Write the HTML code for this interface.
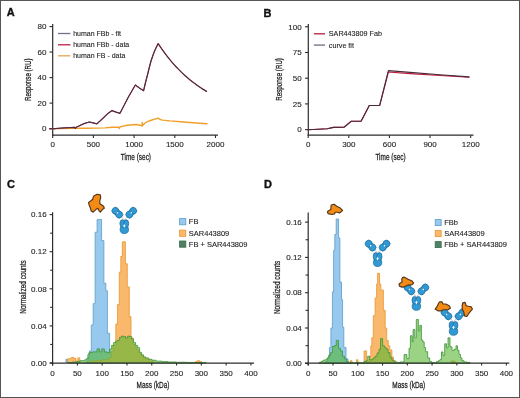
<!DOCTYPE html>
<html><head><meta charset="utf-8"><style>
html,body{margin:0;padding:0;background:#fff;}
body{width:520px;height:398px;overflow:hidden;}
svg{display:block;font-family:"Liberation Sans", sans-serif;will-change:transform;}
.frame{position:absolute;left:0;top:0;width:518px;height:396px;border:1px solid #4a4a4a;}
</style></head><body>
<svg width="520" height="398" viewBox="0 0 520 398">
<rect x="0" y="0" width="520" height="398" fill="#fff"/>
<text x="6.80" y="16.20" font-size="11" text-anchor="start" font-weight="bold" fill="#111" stroke="#111" stroke-width="0.35">A</text>
<line x1="52.70" y1="24.00" x2="52.70" y2="135.70" stroke="#2c2c2c" stroke-width="1.2" />
<line x1="52.10" y1="135.10" x2="218.00" y2="135.10" stroke="#2c2c2c" stroke-width="1.2" />
<line x1="49.50" y1="128.60" x2="52.70" y2="128.60" stroke="#2c2c2c" stroke-width="1.1" />
<text x="46.40" y="128.80" font-size="8.0" text-anchor="end" dominant-baseline="central" fill="#262626" stroke="#262626" stroke-width="0.12">0</text>
<line x1="49.50" y1="103.09" x2="52.70" y2="103.09" stroke="#2c2c2c" stroke-width="1.1" />
<text x="46.40" y="103.29" font-size="8.0" text-anchor="end" dominant-baseline="central" fill="#262626" stroke="#262626" stroke-width="0.12">20</text>
<line x1="49.50" y1="77.58" x2="52.70" y2="77.58" stroke="#2c2c2c" stroke-width="1.1" />
<text x="46.40" y="77.78" font-size="8.0" text-anchor="end" dominant-baseline="central" fill="#262626" stroke="#262626" stroke-width="0.12">40</text>
<line x1="49.50" y1="52.06" x2="52.70" y2="52.06" stroke="#2c2c2c" stroke-width="1.1" />
<text x="46.40" y="52.26" font-size="8.0" text-anchor="end" dominant-baseline="central" fill="#262626" stroke="#262626" stroke-width="0.12">60</text>
<line x1="49.50" y1="26.55" x2="52.70" y2="26.55" stroke="#2c2c2c" stroke-width="1.1" />
<text x="46.40" y="26.75" font-size="8.0" text-anchor="end" dominant-baseline="central" fill="#262626" stroke="#262626" stroke-width="0.12">80</text>
<line x1="52.70" y1="135.10" x2="52.70" y2="138.00" stroke="#2c2c2c" stroke-width="1.1" />
<text x="52.70" y="144.50" font-size="8.0" text-anchor="middle" dominant-baseline="central" fill="#262626" stroke="#262626" stroke-width="0.12">0</text>
<line x1="93.40" y1="135.10" x2="93.40" y2="138.00" stroke="#2c2c2c" stroke-width="1.1" />
<text x="93.40" y="144.50" font-size="8.0" text-anchor="middle" dominant-baseline="central" fill="#262626" stroke="#262626" stroke-width="0.12">500</text>
<line x1="134.10" y1="135.10" x2="134.10" y2="138.00" stroke="#2c2c2c" stroke-width="1.1" />
<text x="134.10" y="144.50" font-size="8.0" text-anchor="middle" dominant-baseline="central" fill="#262626" stroke="#262626" stroke-width="0.12">1000</text>
<line x1="174.80" y1="135.10" x2="174.80" y2="138.00" stroke="#2c2c2c" stroke-width="1.1" />
<text x="174.80" y="144.50" font-size="8.0" text-anchor="middle" dominant-baseline="central" fill="#262626" stroke="#262626" stroke-width="0.12">1500</text>
<line x1="215.50" y1="135.10" x2="215.50" y2="138.00" stroke="#2c2c2c" stroke-width="1.1" />
<text x="215.50" y="144.50" font-size="8.0" text-anchor="middle" dominant-baseline="central" fill="#262626" stroke="#262626" stroke-width="0.12">2000</text>
<text transform="translate(135.90,157.30) scale(0.75,1)" x="0" y="0" font-size="8.6" text-anchor="middle" dominant-baseline="central" fill="#222" stroke="#222" stroke-width="0.25">Time (sec)</text>
<text transform="translate(28.20,79.70) rotate(-90) scale(0.72,1)" x="0" y="0" font-size="8.6" text-anchor="middle" dominant-baseline="central" fill="#222" stroke="#222" stroke-width="0.25">Response (RU)</text>
<line x1="58.00" y1="33.50" x2="70.40" y2="33.50" stroke="#6e7486" stroke-width="1.3" />
<text x="73.2" y="33.50" font-size="7" dominant-baseline="central" fill="#222" stroke="#222" stroke-width="0.1">human FBb - fit</text>
<line x1="58.00" y1="44.80" x2="70.40" y2="44.80" stroke="#c01e44" stroke-width="1.3" />
<text x="73.2" y="44.80" font-size="7" dominant-baseline="central" fill="#222" stroke="#222" stroke-width="0.1">human FBb - data</text>
<line x1="58.00" y1="55.80" x2="70.40" y2="55.80" stroke="#e2a852" stroke-width="1.3" />
<text x="73.2" y="55.80" font-size="7" dominant-baseline="central" fill="#222" stroke="#222" stroke-width="0.1">human FB - data</text>
<polyline points="52.50,128.90 60.00,128.60 74.60,128.30 85.00,128.20 96.00,128.10 105.00,127.90 112.00,127.30 118.60,127.30 119.20,128.40 119.80,127.00 124.10,125.80 130.00,125.00 136.30,124.50 140.00,125.20 142.00,126.00 142.30,122.40 142.60,125.60 145.00,123.00 147.40,121.70 152.00,120.00 158.10,118.10 160.00,119.30 162.50,120.10 170.00,120.90 180.70,121.70 190.00,122.50 200.00,123.20 207.00,123.70" fill="none" stroke="#f0a02a" stroke-width="1.4" stroke-linejoin="round" stroke-linecap="round" />
<polyline points="49.50,128.80 52.50,128.80 62.00,128.00 74.60,127.30 75.40,128.40 76.20,127.20 80.00,125.50 84.00,123.60 89.20,122.00 92.00,122.60 96.90,123.80 100.00,121.00 104.00,117.20 108.00,113.40 112.00,110.60 116.00,112.10 120.00,113.30 124.00,105.50 128.40,97.00 132.00,90.80 135.40,85.00 139.00,87.80 143.60,90.70 145.50,82.50 147.50,74.80 149.30,67.50 151.00,61.00 152.80,55.80 154.40,51.40 156.30,47.20 158.20,43.60 160.21,46.64 162.22,49.56 164.24,52.37 166.25,55.07 168.26,57.65 170.27,60.14 172.29,62.53 174.30,64.83 176.31,67.03 178.32,69.15 180.34,71.18 182.35,73.13 184.36,75.01 186.38,76.81 188.39,78.55 190.40,80.21 192.41,81.81 194.43,83.34 196.44,84.81 198.45,86.23 200.46,87.59 202.47,88.90 204.49,90.15 206.50,91.36" fill="none" stroke="#6a2440" stroke-width="1.25" stroke-linejoin="round" stroke-linecap="round" />
<polyline points="52.50,128.80 62.00,128.00 74.60,127.30 75.40,128.40 76.20,127.20 80.00,125.50 84.00,123.60 89.20,122.00 92.00,122.60 96.90,123.80 100.00,121.00 104.00,117.20 108.00,113.40 112.00,110.60 116.00,112.10 120.00,113.30 124.00,105.50 128.40,97.00 132.00,90.80 135.40,85.00 139.00,87.80 143.60,90.70 145.50,82.50 147.50,74.80 149.30,67.50 151.00,61.00 152.80,55.80 154.40,51.40 156.30,47.20 158.20,43.60 160.21,46.64 162.22,49.56 164.24,52.37 166.25,55.07 168.26,57.65 170.27,60.14 172.29,62.53 174.30,64.83 176.31,67.03 178.32,69.15 180.34,71.18 182.35,73.13 184.36,75.01 186.38,76.81 188.39,78.55 190.40,80.21 192.41,81.81 194.43,83.34 196.44,84.81 198.45,86.23 200.46,87.59 202.47,88.90 204.49,90.15 206.50,91.36" fill="none" stroke="#552a42" stroke-width="0.9" stroke-linejoin="round" stroke-linecap="round" />
<text x="263.60" y="16.70" font-size="11" text-anchor="start" font-weight="bold" fill="#111" stroke="#111" stroke-width="0.35">B</text>
<line x1="308.30" y1="24.00" x2="308.30" y2="135.80" stroke="#2c2c2c" stroke-width="1.2" />
<line x1="307.70" y1="135.20" x2="473.50" y2="135.20" stroke="#2c2c2c" stroke-width="1.2" />
<line x1="305.00" y1="129.60" x2="308.30" y2="129.60" stroke="#2c2c2c" stroke-width="1.1" />
<text x="301.60" y="129.80" font-size="8.0" text-anchor="end" dominant-baseline="central" fill="#262626" stroke="#262626" stroke-width="0.12">0</text>
<line x1="305.00" y1="103.90" x2="308.30" y2="103.90" stroke="#2c2c2c" stroke-width="1.1" />
<text x="301.60" y="104.10" font-size="8.0" text-anchor="end" dominant-baseline="central" fill="#262626" stroke="#262626" stroke-width="0.12">25</text>
<line x1="305.00" y1="78.20" x2="308.30" y2="78.20" stroke="#2c2c2c" stroke-width="1.1" />
<text x="301.60" y="78.40" font-size="8.0" text-anchor="end" dominant-baseline="central" fill="#262626" stroke="#262626" stroke-width="0.12">50</text>
<line x1="305.00" y1="52.50" x2="308.30" y2="52.50" stroke="#2c2c2c" stroke-width="1.1" />
<text x="301.60" y="52.70" font-size="8.0" text-anchor="end" dominant-baseline="central" fill="#262626" stroke="#262626" stroke-width="0.12">75</text>
<line x1="305.00" y1="26.80" x2="308.30" y2="26.80" stroke="#2c2c2c" stroke-width="1.1" />
<text x="301.60" y="27.00" font-size="8.0" text-anchor="end" dominant-baseline="central" fill="#262626" stroke="#262626" stroke-width="0.12">100</text>
<line x1="308.20" y1="135.20" x2="308.20" y2="138.10" stroke="#2c2c2c" stroke-width="1.1" />
<text x="308.20" y="144.50" font-size="8.0" text-anchor="middle" dominant-baseline="central" fill="#262626" stroke="#262626" stroke-width="0.12">0</text>
<line x1="348.82" y1="135.20" x2="348.82" y2="138.10" stroke="#2c2c2c" stroke-width="1.1" />
<text x="348.82" y="144.50" font-size="8.0" text-anchor="middle" dominant-baseline="central" fill="#262626" stroke="#262626" stroke-width="0.12">300</text>
<line x1="389.44" y1="135.20" x2="389.44" y2="138.10" stroke="#2c2c2c" stroke-width="1.1" />
<text x="389.44" y="144.50" font-size="8.0" text-anchor="middle" dominant-baseline="central" fill="#262626" stroke="#262626" stroke-width="0.12">600</text>
<line x1="430.06" y1="135.20" x2="430.06" y2="138.10" stroke="#2c2c2c" stroke-width="1.1" />
<text x="430.06" y="144.50" font-size="8.0" text-anchor="middle" dominant-baseline="central" fill="#262626" stroke="#262626" stroke-width="0.12">900</text>
<line x1="470.68" y1="135.20" x2="470.68" y2="138.10" stroke="#2c2c2c" stroke-width="1.1" />
<text x="470.68" y="144.50" font-size="8.0" text-anchor="middle" dominant-baseline="central" fill="#262626" stroke="#262626" stroke-width="0.12">1200</text>
<text transform="translate(390.50,157.30) scale(0.75,1)" x="0" y="0" font-size="8.6" text-anchor="middle" dominant-baseline="central" fill="#222" stroke="#222" stroke-width="0.25">Time (sec)</text>
<text transform="translate(279.50,79.40) rotate(-90) scale(0.72,1)" x="0" y="0" font-size="8.6" text-anchor="middle" dominant-baseline="central" fill="#222" stroke="#222" stroke-width="0.25">Response (RU)</text>
<line x1="313.90" y1="33.80" x2="325.00" y2="33.80" stroke="#b81c40" stroke-width="1.3" />
<text x="328.8" y="33.8" font-size="7.2" dominant-baseline="central" fill="#222" stroke="#222" stroke-width="0.1">SAR443809 Fab</text>
<line x1="313.90" y1="45.10" x2="325.00" y2="45.10" stroke="#6a6c84" stroke-width="1.3" />
<text x="328.8" y="45.1" font-size="7.2" dominant-baseline="central" fill="#222" stroke="#222" stroke-width="0.1">curve fit</text>
<polyline points="308.00,129.70 318.00,129.20 327.20,128.80 333.50,127.40 343.90,127.30 351.30,121.20 361.20,121.10 369.30,105.50 379.70,105.40 388.40,72.00 410.00,73.60 440.00,75.50 469.00,77.30" fill="none" stroke="#c01838" stroke-width="1.15" stroke-linejoin="round" stroke-linecap="round" />
<polyline points="308.00,129.70 318.00,129.20 327.20,128.80 333.50,127.40 343.90,127.30 351.30,121.20 361.20,121.10 369.30,105.50 379.70,105.40 388.40,70.60 410.00,72.40 440.00,74.70 469.00,76.90" fill="none" stroke="#4a2a3c" stroke-width="1.1" stroke-linejoin="round" stroke-linecap="round" />
<text x="7.00" y="188.00" font-size="11" text-anchor="start" font-weight="bold" fill="#111" stroke="#111" stroke-width="0.35">C</text>
<path d="M66.00,363.00 L66.00,359.29 L67.30,359.29 L67.30,363.00 M86.50,363.00 L86.50,361.14 L88.00,361.14 L88.00,357.44 L89.50,357.44 L89.50,350.94 L91.30,350.94 L91.30,324.97 L93.20,324.97 L93.20,303.64 L95.10,303.64 L95.10,232.22 L97.10,232.22 L97.10,219.52 L99.30,219.52 L99.30,219.52 L101.60,219.52 L101.60,240.57 L103.90,240.57 L103.90,283.24 L105.80,283.24 L105.80,290.65 L107.40,290.65 L107.40,333.32 L109.60,333.32 L109.60,351.87 L111.50,351.87 L111.50,359.29 L113.50,359.29 L113.50,363.00 Z" fill="#97c9ef" fill-opacity="1.0" stroke="#5a9cc8" stroke-width="0.8" stroke-linejoin="miter"/>
<path d="M67.70,363.00 L67.70,358.83 L69.70,358.83 L69.70,358.18 L71.70,358.18 L71.70,357.34 L74.00,357.34 L74.00,358.55 L76.00,358.55 L76.00,363.00 M77.80,363.00 L77.80,357.90 L79.80,357.90 L79.80,363.00 M88.00,363.00 L88.00,361.61 L94.00,361.61 L94.00,360.68 L102.00,360.68 L102.00,359.75 L109.50,359.75 L109.50,357.44 L111.30,357.44 L111.30,351.87 L113.00,351.87 L113.00,345.38 L115.80,345.38 L115.80,324.05 L117.50,324.05 L117.50,304.57 L119.30,304.57 L119.30,272.11 L120.80,272.11 L120.80,256.34 L122.30,256.34 L122.30,241.78 L125.40,241.78 L125.40,263.76 L127.30,263.76 L127.30,286.94 L129.30,286.94 L129.30,316.62 L131.00,316.62 L131.00,337.96 L133.00,337.96 L133.00,344.45 L135.00,344.45 L135.00,347.23 L137.00,347.23 L137.00,350.01 L139.00,350.01 L139.00,353.73 L141.00,353.73 L141.00,355.58 L143.00,355.58 L143.00,357.44 L146.00,357.44 L146.00,359.29 L150.00,359.29 L150.00,361.14 L154.00,361.14 L154.00,363.00 M195.50,363.00 L195.50,361.61 L197.50,361.61 L197.50,360.68 L199.50,360.68 L199.50,361.61 L201.50,361.61 L201.50,363.00 Z" fill="#fab86c" fill-opacity="1.0" stroke="#e8952e" stroke-width="0.8" stroke-linejoin="miter"/>
<path d="M68.00,363.00 L68.00,362.54 L72.00,362.54 L72.00,362.07 L76.00,362.07 L76.00,361.33 L80.00,361.33 L80.00,360.68 L84.00,360.68 L84.00,360.03 L86.00,360.03 L86.00,358.83 L87.90,358.83 L87.90,354.65 L88.80,354.65 L88.80,352.80 L90.80,352.80 L90.80,352.33 L92.80,352.33 L92.80,351.87 L94.80,351.87 L94.80,351.87 L97.00,351.87 L97.00,348.90 L99.60,348.90 L99.60,351.87 L101.80,351.87 L101.80,348.90 L104.40,348.90 L104.40,351.87 L106.50,351.87 L106.50,352.33 L108.00,352.33 L108.00,352.80 L109.60,352.80 L109.60,349.09 L111.60,349.09 L111.60,345.38 L113.60,345.38 L113.60,342.60 L115.60,342.60 L115.60,341.20 L117.60,341.20 L117.60,340.28 L119.60,340.28 L119.60,337.31 L121.60,337.31 L121.60,336.10 L123.60,336.10 L123.60,336.57 L125.60,336.57 L125.60,338.14 L127.60,338.14 L127.60,336.10 L129.60,336.10 L129.60,336.57 L131.60,336.57 L131.60,338.88 L133.60,338.88 L133.60,342.60 L135.60,342.60 L135.60,345.38 L137.60,345.38 L137.60,347.70 L139.60,347.70 L139.60,352.33 L141.60,352.33 L141.60,354.84 L143.60,354.84 L143.60,356.88 L145.60,356.88 L145.60,357.90 L148.60,357.90 L148.60,359.29 L152.00,359.29 L152.00,360.22 L156.00,360.22 L156.00,361.14 L162.00,361.14 L162.00,361.61 L168.00,361.61 L168.00,361.98 L176.00,361.98 L176.00,362.26 L186.00,362.26 L186.00,362.44 L196.00,362.44 L196.00,362.54 L206.00,362.54 L206.00,363.00 Z" fill="#55b530" fill-opacity="0.6" stroke="#3d9437" stroke-width="0.8" stroke-linejoin="miter"/>
<line x1="52.60" y1="212.30" x2="52.60" y2="365.60" stroke="#2c2c2c" stroke-width="1.2" />
<line x1="49.80" y1="363.10" x2="254.00" y2="363.10" stroke="#2c2c2c" stroke-width="1.2" />
<line x1="49.60" y1="363.00" x2="52.60" y2="363.00" stroke="#2c2c2c" stroke-width="1.1" />
<text x="46.60" y="363.20" font-size="8.0" text-anchor="end" dominant-baseline="central" fill="#262626" stroke="#262626" stroke-width="0.12">0.00</text>
<line x1="50.20" y1="344.45" x2="52.60" y2="344.45" stroke="#2c2c2c" stroke-width="1.1" />
<line x1="49.60" y1="325.90" x2="52.60" y2="325.90" stroke="#2c2c2c" stroke-width="1.1" />
<text x="46.60" y="326.10" font-size="8.0" text-anchor="end" dominant-baseline="central" fill="#262626" stroke="#262626" stroke-width="0.12">0.04</text>
<line x1="50.20" y1="307.35" x2="52.60" y2="307.35" stroke="#2c2c2c" stroke-width="1.1" />
<line x1="49.60" y1="288.80" x2="52.60" y2="288.80" stroke="#2c2c2c" stroke-width="1.1" />
<text x="46.60" y="289.00" font-size="8.0" text-anchor="end" dominant-baseline="central" fill="#262626" stroke="#262626" stroke-width="0.12">0.08</text>
<line x1="50.20" y1="270.25" x2="52.60" y2="270.25" stroke="#2c2c2c" stroke-width="1.1" />
<line x1="49.60" y1="251.70" x2="52.60" y2="251.70" stroke="#2c2c2c" stroke-width="1.1" />
<text x="46.60" y="251.90" font-size="8.0" text-anchor="end" dominant-baseline="central" fill="#262626" stroke="#262626" stroke-width="0.12">0.12</text>
<line x1="50.20" y1="233.15" x2="52.60" y2="233.15" stroke="#2c2c2c" stroke-width="1.1" />
<line x1="49.60" y1="214.60" x2="52.60" y2="214.60" stroke="#2c2c2c" stroke-width="1.1" />
<text x="46.60" y="214.80" font-size="8.0" text-anchor="end" dominant-baseline="central" fill="#262626" stroke="#262626" stroke-width="0.12">0.16</text>
<line x1="52.60" y1="363.10" x2="52.60" y2="365.60" stroke="#2c2c2c" stroke-width="1.1" />
<text x="52.60" y="373.20" font-size="8.0" text-anchor="middle" dominant-baseline="central" fill="#262626" stroke="#262626" stroke-width="0.12">0</text>
<line x1="77.39" y1="363.10" x2="77.39" y2="365.60" stroke="#2c2c2c" stroke-width="1.1" />
<text x="77.39" y="373.20" font-size="8.0" text-anchor="middle" dominant-baseline="central" fill="#262626" stroke="#262626" stroke-width="0.12">50</text>
<line x1="102.18" y1="363.10" x2="102.18" y2="365.60" stroke="#2c2c2c" stroke-width="1.1" />
<text x="102.18" y="373.20" font-size="8.0" text-anchor="middle" dominant-baseline="central" fill="#262626" stroke="#262626" stroke-width="0.12">100</text>
<line x1="126.97" y1="363.10" x2="126.97" y2="365.60" stroke="#2c2c2c" stroke-width="1.1" />
<text x="126.97" y="373.20" font-size="8.0" text-anchor="middle" dominant-baseline="central" fill="#262626" stroke="#262626" stroke-width="0.12">150</text>
<line x1="151.76" y1="363.10" x2="151.76" y2="365.60" stroke="#2c2c2c" stroke-width="1.1" />
<text x="151.76" y="373.20" font-size="8.0" text-anchor="middle" dominant-baseline="central" fill="#262626" stroke="#262626" stroke-width="0.12">200</text>
<line x1="176.55" y1="363.10" x2="176.55" y2="365.60" stroke="#2c2c2c" stroke-width="1.1" />
<text x="176.55" y="373.20" font-size="8.0" text-anchor="middle" dominant-baseline="central" fill="#262626" stroke="#262626" stroke-width="0.12">250</text>
<line x1="201.34" y1="363.10" x2="201.34" y2="365.60" stroke="#2c2c2c" stroke-width="1.1" />
<text x="201.34" y="373.20" font-size="8.0" text-anchor="middle" dominant-baseline="central" fill="#262626" stroke="#262626" stroke-width="0.12">300</text>
<line x1="226.13" y1="363.10" x2="226.13" y2="365.60" stroke="#2c2c2c" stroke-width="1.1" />
<text x="226.13" y="373.20" font-size="8.0" text-anchor="middle" dominant-baseline="central" fill="#262626" stroke="#262626" stroke-width="0.12">350</text>
<line x1="250.92" y1="363.10" x2="250.92" y2="365.60" stroke="#2c2c2c" stroke-width="1.1" />
<text x="250.92" y="373.20" font-size="8.0" text-anchor="middle" dominant-baseline="central" fill="#262626" stroke="#262626" stroke-width="0.12">400</text>
<text transform="translate(153.00,385.60) scale(0.75,1)" x="0" y="0" font-size="8.6" text-anchor="middle" dominant-baseline="central" fill="#222" stroke="#222" stroke-width="0.25">Mass (kDa)</text>
<text transform="translate(23.00,287.00) rotate(-90) scale(0.75,1)" x="0" y="0" font-size="8.6" text-anchor="middle" dominant-baseline="central" fill="#222" stroke="#222" stroke-width="0.25">Normalized counts</text>
<rect x="179.6" y="218.60" width="6.2" height="6.2" fill="#97c9ef" stroke="#5a9cc8" stroke-width="0.8"/>
<text x="188.8" y="221.70" font-size="7.5" dominant-baseline="central" fill="#222" stroke="#222" stroke-width="0.1">FB</text>
<rect x="179.6" y="230.10" width="6.2" height="6.2" fill="#fab86c" stroke="#e8952e" stroke-width="0.8"/>
<text x="188.8" y="233.20" font-size="7.5" dominant-baseline="central" fill="#222" stroke="#222" stroke-width="0.1">SAR443809</text>
<rect x="179.6" y="241.00" width="6.2" height="6.2" fill="#4e8262" stroke="#3b6a4d" stroke-width="0.8"/>
<text x="188.8" y="244.10" font-size="7.5" dominant-baseline="central" fill="#222" stroke="#222" stroke-width="0.1">FB + SAR443809</text>
<path d="M93.8,195.9 L97.1,194.2 L100.3,194.9 L100.7,197.8 L99.7,201.1 L100,203.7 L103.6,206.3 L104.3,208.3 L102.3,209.6 L100.3,212.2 L99,210.9 L98,208.3 L95.8,209.6 L93.2,212.2 L91.2,210.9 L90.5,208.3 L88.9,204.4 L88.6,202.4 L91.2,200.5 L92.8,199.2 L93.2,197.2 Z" fill="#f28c16" stroke="#55341a" stroke-width="1.15" stroke-linejoin="round"/>
<g transform="translate(124.30,219.30) scale(1.0)" ><path d="M-2.8,-2.2 L0,0.6 L2.8,-2.2" fill="none" stroke="#a0aab0" stroke-width="0.6"/><g transform="translate(-7.00,-6.6) rotate(-45)"><ellipse cx="0" cy="-2.6" rx="3.5" ry="3.5" fill="#3199d4" stroke="#1d6c9c" stroke-width="0.75"/><ellipse cx="0" cy="2.6" rx="3.5" ry="3.5" fill="#3199d4" stroke="#1d6c9c" stroke-width="0.75"/></g><g transform="translate(7.00,-6.6) rotate(45)"><ellipse cx="0" cy="-2.6" rx="3.5" ry="3.5" fill="#3199d4" stroke="#1d6c9c" stroke-width="0.75"/><ellipse cx="0" cy="2.6" rx="3.5" ry="3.5" fill="#3199d4" stroke="#1d6c9c" stroke-width="0.75"/></g><g transform="translate(0,7.3)"><ellipse cx="0" cy="3.0" rx="4.2" ry="4.0" fill="#3199d4" stroke="#1d6c9c" stroke-width="0.75"/><ellipse cx="-1.9" cy="-3.0" rx="2.5" ry="3.9" fill="#3199d4" stroke="#1d6c9c" stroke-width="0.75"/><ellipse cx="1.9" cy="-3.0" rx="2.5" ry="3.9" fill="#3199d4" stroke="#1d6c9c" stroke-width="0.75"/></g><g transform="translate(-7.00,-6.6) rotate(-45)"><ellipse cx="0" cy="0" rx="0.8" ry="0.8" fill="#e8f6ff"/></g><g transform="translate(7.00,-6.6) rotate(45)"><ellipse cx="0" cy="0" rx="0.8" ry="0.8" fill="#e8f6ff"/></g><path d="M0,4.6 L1.2,6.6 L0,8.3 L-1.2,6.6 Z" fill="#f4fbff"/></g>
<text x="264.00" y="188.20" font-size="11" text-anchor="start" font-weight="bold" fill="#111" stroke="#111" stroke-width="0.35">D</text>
<path d="M325.50,363.30 L325.50,361.54 L327.50,361.54 L327.50,358.00 L329.50,358.00 L329.50,347.42 L330.90,347.42 L330.90,328.00 L332.40,328.00 L332.40,291.82 L333.60,291.82 L333.60,250.34 L334.80,250.34 L334.80,234.46 L336.20,234.46 L336.20,219.01 L338.60,219.01 L338.60,237.99 L339.90,237.99 L339.90,282.11 L341.50,282.11 L341.50,299.76 L342.60,299.76 L342.60,327.12 L343.80,327.12 L343.80,347.42 L346.00,347.42 L346.00,358.89 L348.00,358.89 L348.00,363.30 Z" fill="#97c9ef" fill-opacity="1.0" stroke="#5a9cc8" stroke-width="0.8" stroke-linejoin="miter"/>
<path d="M350.50,363.30 L350.50,360.65 L352.00,360.65 L352.00,363.30 M356.50,363.30 L356.50,359.77 L358.00,359.77 L358.00,363.30 M364.10,363.30 L364.10,350.94 L366.60,350.94 L366.60,361.54 L369.70,361.54 L369.70,356.06 L370.80,356.06 L370.80,345.83 L371.80,345.83 L371.80,337.71 L373.30,337.71 L373.30,315.64 L375.10,315.64 L375.10,298.00 L376.60,298.00 L376.60,283.88 L377.60,283.88 L377.60,273.29 L379.60,273.29 L379.60,283.88 L380.80,283.88 L380.80,290.05 L383.40,290.05 L383.40,310.35 L385.20,310.35 L385.20,328.00 L386.70,328.00 L386.70,340.62 L388.30,340.62 L388.30,345.83 L389.80,345.83 L389.80,349.89 L391.90,349.89 L391.90,357.21 L393.50,357.21 L393.50,360.65 L395.50,360.65 L395.50,363.30 M451.00,363.30 L451.00,361.09 L455.00,361.09 L455.00,363.30 Z" fill="#fab86c" fill-opacity="1.0" stroke="#e8952e" stroke-width="0.8" stroke-linejoin="miter"/>
<path d="M319.00,363.30 L319.00,362.42 L321.00,362.42 L321.00,361.54 L323.00,361.54 L323.00,360.21 L325.00,360.21 L325.00,359.77 L327.00,359.77 L327.00,358.00 L328.60,358.00 L328.60,355.36 L330.50,355.36 L330.50,352.71 L332.40,352.71 L332.40,346.53 L334.30,346.53 L334.30,345.65 L336.30,345.65 L336.30,340.36 L338.50,340.36 L338.50,348.30 L340.50,348.30 L340.50,350.94 L342.50,350.94 L342.50,356.24 L344.50,356.24 L344.50,358.89 L346.50,358.89 L346.50,361.54 L348.50,361.54 L348.50,362.42 L352.00,362.42 L352.00,362.86 L356.00,362.86 L356.00,362.42 L360.00,362.42 L360.00,362.86 L364.00,362.86 L364.00,361.54 L366.00,361.54 L366.00,360.65 L367.70,360.65 L367.70,356.24 L369.70,356.24 L369.70,359.77 L373.00,359.77 L373.00,358.00 L375.00,358.00 L375.00,356.24 L377.00,356.24 L377.00,352.97 L379.00,352.97 L379.00,349.36 L380.50,349.36 L380.50,338.59 L382.60,338.59 L382.60,345.83 L384.50,345.83 L384.50,347.42 L386.00,347.42 L386.00,348.92 L388.00,348.92 L388.00,352.53 L390.00,352.53 L390.00,357.21 L392.00,357.21 L392.00,360.21 L394.00,360.21 L394.00,361.98 L397.00,361.98 L397.00,362.42 L400.00,362.42 L400.00,361.98 L403.60,361.98 L403.60,361.54 L404.10,361.54 L404.10,354.56 L406.90,354.56 L406.90,358.62 L409.00,358.62 L409.00,348.30 L410.40,348.30 L410.40,335.77 L412.20,335.77 L412.20,341.94 L413.10,341.94 L413.10,329.59 L414.90,329.59 L414.90,337.88 L416.30,337.88 L416.30,319.44 L418.40,319.44 L418.40,330.91 L419.80,330.91 L419.80,325.35 L421.40,325.35 L421.40,340.00 L422.80,340.00 L422.80,341.94 L424.20,341.94 L424.20,347.50 L425.60,347.50 L425.60,351.74 L427.70,351.74 L427.70,357.92 L429.70,357.92 L429.70,361.54 L431.50,361.54 L431.50,362.42 L434.00,362.42 L434.00,362.86 L436.50,362.86 L436.50,361.54 L438.50,361.54 L438.50,360.65 L440.00,360.65 L440.00,359.42 L441.50,359.42 L441.50,351.92 L443.00,351.92 L443.00,355.45 L444.70,355.45 L444.70,343.80 L446.50,343.80 L446.50,347.86 L448.00,347.86 L448.00,337.80 L450.00,337.80 L450.00,346.80 L452.00,346.80 L452.00,350.42 L454.00,350.42 L454.00,349.27 L456.00,349.27 L456.00,345.83 L457.50,345.83 L457.50,350.42 L459.00,350.42 L459.00,354.39 L460.50,354.39 L460.50,357.92 L462.00,357.92 L462.00,360.65 L464.00,360.65 L464.00,361.98 L467.00,361.98 L467.00,362.42 L470.00,362.42 L470.00,363.30 Z" fill="#55b530" fill-opacity="0.6" stroke="#3d9437" stroke-width="0.8" stroke-linejoin="miter"/>
<line x1="308.20" y1="212.40" x2="308.20" y2="365.60" stroke="#2c2c2c" stroke-width="1.2" />
<line x1="305.00" y1="363.10" x2="509.30" y2="363.10" stroke="#2c2c2c" stroke-width="1.2" />
<line x1="305.00" y1="363.30" x2="308.20" y2="363.30" stroke="#2c2c2c" stroke-width="1.1" />
<text x="301.80" y="363.50" font-size="8.0" text-anchor="end" dominant-baseline="central" fill="#262626" stroke="#262626" stroke-width="0.12">0.00</text>
<line x1="305.60" y1="345.65" x2="308.20" y2="345.65" stroke="#2c2c2c" stroke-width="1.1" />
<line x1="305.00" y1="328.00" x2="308.20" y2="328.00" stroke="#2c2c2c" stroke-width="1.1" />
<text x="301.80" y="328.20" font-size="8.0" text-anchor="end" dominant-baseline="central" fill="#262626" stroke="#262626" stroke-width="0.12">0.04</text>
<line x1="305.60" y1="310.35" x2="308.20" y2="310.35" stroke="#2c2c2c" stroke-width="1.1" />
<line x1="305.00" y1="292.70" x2="308.20" y2="292.70" stroke="#2c2c2c" stroke-width="1.1" />
<text x="301.80" y="292.90" font-size="8.0" text-anchor="end" dominant-baseline="central" fill="#262626" stroke="#262626" stroke-width="0.12">0.08</text>
<line x1="305.60" y1="275.05" x2="308.20" y2="275.05" stroke="#2c2c2c" stroke-width="1.1" />
<line x1="305.00" y1="257.40" x2="308.20" y2="257.40" stroke="#2c2c2c" stroke-width="1.1" />
<text x="301.80" y="257.60" font-size="8.0" text-anchor="end" dominant-baseline="central" fill="#262626" stroke="#262626" stroke-width="0.12">0.12</text>
<line x1="305.60" y1="239.75" x2="308.20" y2="239.75" stroke="#2c2c2c" stroke-width="1.1" />
<line x1="305.00" y1="222.10" x2="308.20" y2="222.10" stroke="#2c2c2c" stroke-width="1.1" />
<text x="301.80" y="222.30" font-size="8.0" text-anchor="end" dominant-baseline="central" fill="#262626" stroke="#262626" stroke-width="0.12">0.16</text>
<line x1="308.20" y1="363.10" x2="308.20" y2="365.60" stroke="#2c2c2c" stroke-width="1.1" />
<text x="308.20" y="373.20" font-size="8.0" text-anchor="middle" dominant-baseline="central" fill="#262626" stroke="#262626" stroke-width="0.12">0</text>
<line x1="332.97" y1="363.10" x2="332.97" y2="365.60" stroke="#2c2c2c" stroke-width="1.1" />
<text x="332.97" y="373.20" font-size="8.0" text-anchor="middle" dominant-baseline="central" fill="#262626" stroke="#262626" stroke-width="0.12">50</text>
<line x1="357.75" y1="363.10" x2="357.75" y2="365.60" stroke="#2c2c2c" stroke-width="1.1" />
<text x="357.75" y="373.20" font-size="8.0" text-anchor="middle" dominant-baseline="central" fill="#262626" stroke="#262626" stroke-width="0.12">100</text>
<line x1="382.52" y1="363.10" x2="382.52" y2="365.60" stroke="#2c2c2c" stroke-width="1.1" />
<text x="382.52" y="373.20" font-size="8.0" text-anchor="middle" dominant-baseline="central" fill="#262626" stroke="#262626" stroke-width="0.12">150</text>
<line x1="407.30" y1="363.10" x2="407.30" y2="365.60" stroke="#2c2c2c" stroke-width="1.1" />
<text x="407.30" y="373.20" font-size="8.0" text-anchor="middle" dominant-baseline="central" fill="#262626" stroke="#262626" stroke-width="0.12">200</text>
<line x1="432.07" y1="363.10" x2="432.07" y2="365.60" stroke="#2c2c2c" stroke-width="1.1" />
<text x="432.07" y="373.20" font-size="8.0" text-anchor="middle" dominant-baseline="central" fill="#262626" stroke="#262626" stroke-width="0.12">250</text>
<line x1="456.85" y1="363.10" x2="456.85" y2="365.60" stroke="#2c2c2c" stroke-width="1.1" />
<text x="456.85" y="373.20" font-size="8.0" text-anchor="middle" dominant-baseline="central" fill="#262626" stroke="#262626" stroke-width="0.12">300</text>
<line x1="481.62" y1="363.10" x2="481.62" y2="365.60" stroke="#2c2c2c" stroke-width="1.1" />
<text x="481.62" y="373.20" font-size="8.0" text-anchor="middle" dominant-baseline="central" fill="#262626" stroke="#262626" stroke-width="0.12">350</text>
<line x1="506.40" y1="363.10" x2="506.40" y2="365.60" stroke="#2c2c2c" stroke-width="1.1" />
<text x="506.40" y="373.20" font-size="8.0" text-anchor="middle" dominant-baseline="central" fill="#262626" stroke="#262626" stroke-width="0.12">400</text>
<text transform="translate(408.80,385.60) scale(0.75,1)" x="0" y="0" font-size="8.6" text-anchor="middle" dominant-baseline="central" fill="#222" stroke="#222" stroke-width="0.25">Mass (kDa)</text>
<text transform="translate(277.60,287.40) rotate(-90) scale(0.75,1)" x="0" y="0" font-size="8.6" text-anchor="middle" dominant-baseline="central" fill="#222" stroke="#222" stroke-width="0.25">Normalized counts</text>
<rect x="435.2" y="219.60" width="6.0" height="6.0" fill="#97c9ef" stroke="#5a9cc8" stroke-width="0.8"/>
<text x="444.2" y="222.60" font-size="7.5" dominant-baseline="central" fill="#222" stroke="#222" stroke-width="0.1">FBb</text>
<rect x="435.2" y="230.60" width="6.0" height="6.0" fill="#fab86c" stroke="#e8952e" stroke-width="0.8"/>
<text x="444.2" y="233.60" font-size="7.5" dominant-baseline="central" fill="#222" stroke="#222" stroke-width="0.1">SAR443809</text>
<rect x="435.2" y="241.60" width="6.0" height="6.0" fill="#4e8262" stroke="#3b6a4d" stroke-width="0.8"/>
<text x="444.2" y="244.60" font-size="7.5" dominant-baseline="central" fill="#222" stroke="#222" stroke-width="0.1">FBb + SAR443809</text>
<path d="M331.2,205 L334,204.3 L336.7,206.3 L340.3,208.1 L342.6,210.4 L341.2,211.8 L339.4,213.1 L337.6,212.2 L335.3,212.2 L334.4,214 L331.7,214.5 L328.1,213.6 L327.4,211.8 L329,210.4 L330.8,209.5 L331,207.2 Z" fill="#f28c16" stroke="#55341a" stroke-width="1.15" stroke-linejoin="round"/>
<g transform="translate(377.60,252.20) scale(1.0)" ><path d="M-2.8,-2.2 L0,0.6 L2.8,-2.2" fill="none" stroke="#a0aab0" stroke-width="0.6"/><g transform="translate(-7.00,-6.6) rotate(-45)"><ellipse cx="0" cy="-2.6" rx="3.5" ry="3.5" fill="#3199d4" stroke="#1d6c9c" stroke-width="0.75"/><ellipse cx="0" cy="2.6" rx="3.5" ry="3.5" fill="#3199d4" stroke="#1d6c9c" stroke-width="0.75"/></g><g transform="translate(7.00,-6.6) rotate(45)"><ellipse cx="0" cy="-2.6" rx="3.5" ry="3.5" fill="#3199d4" stroke="#1d6c9c" stroke-width="0.75"/><ellipse cx="0" cy="2.6" rx="3.5" ry="3.5" fill="#3199d4" stroke="#1d6c9c" stroke-width="0.75"/></g><g transform="translate(0,7.3)"><ellipse cx="0" cy="3.0" rx="4.2" ry="4.0" fill="#3199d4" stroke="#1d6c9c" stroke-width="0.75"/><ellipse cx="-1.9" cy="-3.0" rx="2.5" ry="3.9" fill="#3199d4" stroke="#1d6c9c" stroke-width="0.75"/><ellipse cx="1.9" cy="-3.0" rx="2.5" ry="3.9" fill="#3199d4" stroke="#1d6c9c" stroke-width="0.75"/></g><g transform="translate(-7.00,-6.6) rotate(-45)"><ellipse cx="0" cy="0" rx="0.8" ry="0.8" fill="#e8f6ff"/></g><g transform="translate(7.00,-6.6) rotate(45)"><ellipse cx="0" cy="0" rx="0.8" ry="0.8" fill="#e8f6ff"/></g><path d="M0,4.6 L1.2,6.6 L0,8.3 L-1.2,6.6 Z" fill="#f4fbff"/></g>
<g transform="translate(416.40,296.00) scale(1.0)" ><path d="M-2.8,-2.2 L0,0.6 L2.8,-2.2" fill="none" stroke="#a0aab0" stroke-width="0.6"/><g transform="translate(-7.00,-6.6) rotate(-45)"><ellipse cx="0" cy="-2.6" rx="3.5" ry="3.5" fill="#3199d4" stroke="#1d6c9c" stroke-width="0.75"/><ellipse cx="0" cy="2.6" rx="3.5" ry="3.5" fill="#3199d4" stroke="#1d6c9c" stroke-width="0.75"/></g><g transform="translate(7.00,-6.6) rotate(45)"><ellipse cx="0" cy="-2.6" rx="3.5" ry="3.5" fill="#3199d4" stroke="#1d6c9c" stroke-width="0.75"/><ellipse cx="0" cy="2.6" rx="3.5" ry="3.5" fill="#3199d4" stroke="#1d6c9c" stroke-width="0.75"/></g><g transform="translate(0,7.3)"><ellipse cx="0" cy="3.0" rx="4.2" ry="4.0" fill="#3199d4" stroke="#1d6c9c" stroke-width="0.75"/><ellipse cx="-1.9" cy="-3.0" rx="2.5" ry="3.9" fill="#3199d4" stroke="#1d6c9c" stroke-width="0.75"/><ellipse cx="1.9" cy="-3.0" rx="2.5" ry="3.9" fill="#3199d4" stroke="#1d6c9c" stroke-width="0.75"/></g><g transform="translate(-7.00,-6.6) rotate(-45)"><ellipse cx="0" cy="0" rx="0.8" ry="0.8" fill="#e8f6ff"/></g><g transform="translate(7.00,-6.6) rotate(45)"><ellipse cx="0" cy="0" rx="0.8" ry="0.8" fill="#e8f6ff"/></g><path d="M0,4.6 L1.2,6.6 L0,8.3 L-1.2,6.6 Z" fill="#f4fbff"/></g>
<path d="M399.0,284.1 L402.0,282.1 L401.8,279.0 L402.6,277.6 L404.0,277.0 L408.1,279.3 L412.1,281.1 L413.6,283.1 L412.1,284.6 L408.1,285.1 L405.0,286.6 L402.0,287.1 L399.5,286.1 Z" fill="#f28c16" stroke="#55341a" stroke-width="1.15" stroke-linejoin="round"/>
<g transform="translate(453.50,321.00) scale(1.0)" ><path d="M-2.8,-2.2 L0,0.6 L2.8,-2.2" fill="none" stroke="#a0aab0" stroke-width="0.6"/><g transform="translate(-7.00,-6.6) rotate(-45)"><ellipse cx="0" cy="-2.6" rx="3.5" ry="3.5" fill="#3199d4" stroke="#1d6c9c" stroke-width="0.75"/><ellipse cx="0" cy="2.6" rx="3.5" ry="3.5" fill="#3199d4" stroke="#1d6c9c" stroke-width="0.75"/></g><g transform="translate(7.00,-6.6) rotate(45)"><ellipse cx="0" cy="-2.6" rx="3.5" ry="3.5" fill="#3199d4" stroke="#1d6c9c" stroke-width="0.75"/><ellipse cx="0" cy="2.6" rx="3.5" ry="3.5" fill="#3199d4" stroke="#1d6c9c" stroke-width="0.75"/></g><g transform="translate(0,7.3)"><ellipse cx="0" cy="3.0" rx="4.2" ry="4.0" fill="#3199d4" stroke="#1d6c9c" stroke-width="0.75"/><ellipse cx="-1.9" cy="-3.0" rx="2.5" ry="3.9" fill="#3199d4" stroke="#1d6c9c" stroke-width="0.75"/><ellipse cx="1.9" cy="-3.0" rx="2.5" ry="3.9" fill="#3199d4" stroke="#1d6c9c" stroke-width="0.75"/></g><g transform="translate(-7.00,-6.6) rotate(-45)"><ellipse cx="0" cy="0" rx="0.8" ry="0.8" fill="#e8f6ff"/></g><g transform="translate(7.00,-6.6) rotate(45)"><ellipse cx="0" cy="0" rx="0.8" ry="0.8" fill="#e8f6ff"/></g><path d="M0,4.6 L1.2,6.6 L0,8.3 L-1.2,6.6 Z" fill="#f4fbff"/></g>
<path d="M435.1,309.1 L436.8,306.9 L438.5,303.5 L439.6,301.8 L441.9,301.8 L443.0,304.0 L445.8,304.0 L449.2,305.7 L450.4,308.0 L448.1,309.7 L443.6,309.7 L441.3,310.8 L437.9,310.8 Z" fill="#f28c16" stroke="#55341a" stroke-width="1.15" stroke-linejoin="round"/>
<path d="M462.2,305.2 L462.8,302.9 L465.1,302.4 L466.2,305.7 L468.5,306.3 L471.3,306.9 L472.4,309.1 L469.0,313.1 L466.8,316.5 L464.5,315.9 L463.9,312.5 L462.2,309.1 Z" fill="#f28c16" stroke="#55341a" stroke-width="1.15" stroke-linejoin="round"/>
<rect x="0.5" y="0.5" width="519" height="397" fill="none" stroke="#555" stroke-width="1"/>
</svg>
</body></html>
